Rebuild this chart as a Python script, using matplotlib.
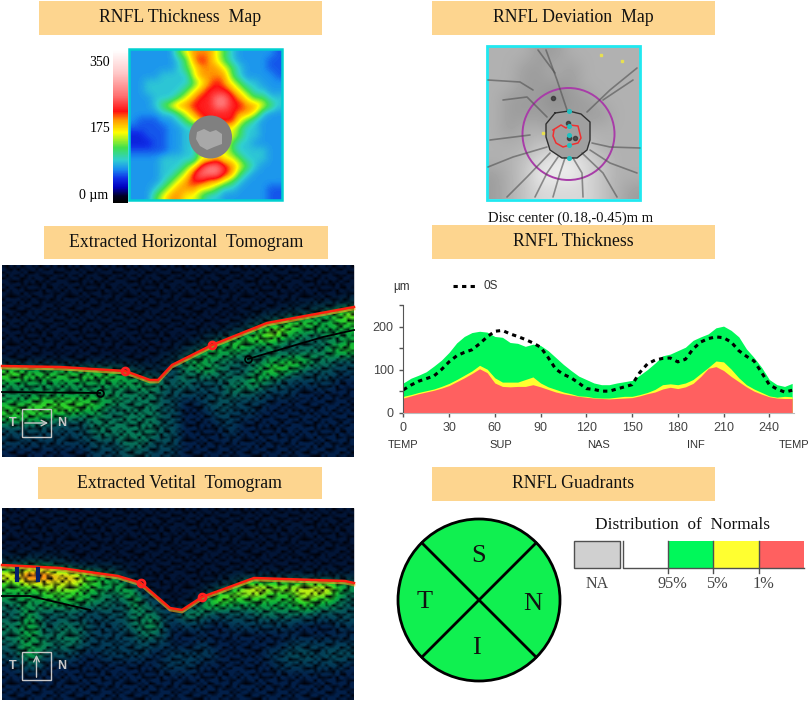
import numpy as np
import matplotlib
matplotlib.use("Agg")
import matplotlib.pyplot as plt
from matplotlib.colors import LinearSegmentedColormap
from matplotlib.patches import Rectangle, Circle, Polygon

plt.rcParams['font.family'] = ['Liberation Serif', 'DejaVu Sans']

# RNFL thickness profile, one value every 5 samples
angle = list(range(0, 260, 5))
normal_95 = [69, 80, 87, 95, 108, 122, 140, 162, 177, 186, 189, 187, 177, 175, 163, 161, 154, 159, 156, 144,
             128, 112, 98, 85, 77, 69, 65, 65, 69, 72, 75, 87, 100, 115, 132, 136, 144, 152, 168, 176,
             183, 197, 201, 191, 176, 148, 128, 105, 77, 65, 61, 68]
normal_5 = [38, 42, 47, 51, 55, 61, 68, 77, 87, 97, 110, 101, 81, 71, 71, 71, 77, 83, 69, 60,
            54, 48, 44, 39, 38, 35, 34, 34, 36, 38, 38, 42, 47, 54, 65, 67, 65, 69, 77, 91,
            105, 120, 118, 101, 81, 65, 55, 47, 39, 36, 38, 37]
normal_1 = [34, 39, 44, 48, 52, 57, 63, 72, 81, 91, 102, 93, 69, 61, 60, 61, 61, 65, 60, 54,
            48, 44, 41, 38, 36, 34, 33, 32, 33, 34, 35, 39, 44, 48, 55, 59, 56, 60, 68, 84,
            103, 107, 98, 84, 72, 60, 50, 43, 37, 34, 33, 33]
os_eye = [53, 64, 73, 79, 85, 100, 118, 132, 140, 146, 160, 176, 189, 191, 183, 177, 170, 162, 152, 128,
          101, 89, 81, 69, 56, 54, 50, 50, 55, 60, 65, 93, 113, 122, 126, 127, 118, 124, 148, 164,
          172, 176, 174, 164, 144, 131, 120, 93, 65, 55, 48, 52]
x_ticks = [0, 30, 60, 90, 120, 150, 180, 210, 240]
y_ticks = [0, 100, 200]
y_minor = [50, 150, 250]
sector_pos = [0, 64, 128, 192, 256]
sector_names = ['TEMP', 'SUP', 'NAS', 'INF', 'TEMP']

headers = ['RNFL Thickness  Map', 'RNFL Deviation  Map', 'Extracted Horizontal  Tomogram', 'RNFL Thickness',
           'Extracted Vetital  Tomogram', 'RNFL Guadrants']
header_boxes = [(39, 1, 283, 34), (432, 1, 283, 34), (44, 226, 284, 33), (432, 225, 283, 34),
                (38, 467, 284, 32), (432, 467, 283, 34)]

# thickness map, estimated colour level per cell (1 = dark blue ... 9 = pink)
thick_rows = ["33333356777654333332",
              "33333345787654333322",
              "33333345677765433322",
              "33334444677775433332",
              "33444444567876544333",
              "33444445678887654433",
              "33344456788998765544",
              "33345677888998877654",
              "33334456788888776433",
              "32223345678888654333",
              "22222334456666544333",
              "11222334456666544333",
              "11122334466665443333",
              "22222334466665444433",
              "33334444466766544433",
              "33334445689987654333",
              "33334456899987543333",
              "33334567887765433333",
              "33345677766544333322",
              "33356776654433333322"]
level_um = [0, 50, 65, 80, 95, 125, 160, 190, 215, 250]

# tomogram brightness per cell (0 = black ... 9 = red)
horiz_rows = ["111111 111111 111111 111111 111111 111111",
              "111111 111111 111111 111111 111111 111111",
              "111111 111111 111111 111111 111111 111111",
              "111111 111111 111111 111111 111111 111112",
              "111111 111111 111111 111111 111112 234567",
              "111111 111111 111111 111111 123456 665566",
              "111111 111111 111111 111112 356776 555555",
              "111111 111111 111111 112456 666654 433445",
              "111111 111111 111111 245655 543433 344566",
              "111111 111111 111123 555444 344556 654433",
              "776666 666666 543222 445543 345665 433322",
              "555555 555555 555543 433334 455432 222211",
              "444444 444444 444433 332234 443222 111111",
              "555666 666655 444433 112333 222111 111111",
              "666666 665543 444433 111232 221111 111111",
              "555544 333444 444433 111122 111111 111111",
              "222222 223444 444433 111112 111111 111111",
              "222222 222333 444333 111111 111111 111111",
              "111111 111222 333222 111111 111111 111111"]
vert_rows = ["111111 111111 111111 111111 111111 111111",
             "111111 111111 111111 111111 111111 111111",
             "111111 111111 111111 111111 111111 111111",
             "111111 111111 111111 111111 111111 111111",
             "111111 111111 111111 111111 111111 111111",
             "334443 311111 111111 111111 111111 111111",
             "889998 887655 211111 111111 111111 111111",
             "667777 776655 541111 111123 677777 777765",
             "555566 665544 553111 112577 777666 777754",
             "445455 555443 354311 125665 555555 665543",
             "335433 332233 344432 554333 334444 443333",
             "445533 434222 344531 222112 222222 111122",
             "445534 443222 234431 111111 111111 111111",
             "345453 443222 223221 112111 111112 222222",
             "335533 321122 222112 222211 111223 332333",
             "123411 111111 111122 221111 111122 222221",
             "111111 111111 111111 111111 111111 111111",
             "111111 111111 111111 111111 111111 111111",
             "111111 111111 111111 111111 111111 111111"]
speckle_rows = ["5927 1840 6395 2718",
                "1683 9254 0716 8342",
                "7340 2619 8452 1097",
                "2916 7083 3168 5724",
                "8451 3962 7205 9136",
                "0379 6815 1947 2680",
                "6142 0738 5691 7403",
                "3805 9471 2360 8915",
                "9260 4187 6839 0452",
                "1574 2906 4018 6377",
                "4798 6351 9724 1280",
                "8023 1749 0586 3961",
                "2651 8094 3172 7546",
                "7316 5420 8963 0184",
                "0489 3167 2540 9628",
                "5134 7892 6017 4375"]

# tomogram overlays in image pixels
h_surf_x = [2, 60, 125, 150, 158, 172, 212, 267, 354]
h_surf_y = [366, 367, 371, 380, 380, 365, 345, 323, 307]
h_seg_x = [2, 100]
h_seg_y = [392, 393]
h_seg2_x = [248, 323, 354]
h_seg2_y = [359, 337, 330]
h_mark_x = [125, 212]
h_mark_y = [371, 345]
v_surf_x = [2, 60, 118, 141, 170, 182, 202, 254, 345, 354]
v_surf_y = [565, 568, 576, 583, 608, 610, 597, 578, 581, 583]
v_seg_x = [2, 30, 90]
v_seg_y = [596, 596, 610]
v_mark_x = [141, 202]
v_mark_y = [583, 597]
shadow_x = [17, 38]

# fundus photo, all given in pixels of the image
fundus_rows = ["9 9 9 8 8 9 9 9 9 9",
               "9 9 8 8 9 8 9 9 9 9",
               "9 9 8 8 8 8 9 9 9 9",
               "9 8 8 8 7 8 8 9 9 9",
               "9 8 8 8 8 8 8 8 9 9",
               "9 8 9 9 8 8 9 9 9 9",
               "9 9 9 10 10 10 10 9 9 9",
               "9 9 10 11 12 12 11 10 9 9",
               "8 9 10 12 12 12 11 10 9 9",
               "8 9 10 11 11 11 11 10 9 8"]
vessels = [[(546, 50), (557, 80), (567, 110)],
           [(538, 50), (555, 73)],
           [(637, 68), (610, 90), (587, 112)],
           [(633, 80), (603, 100)],
           [(488, 80), (520, 82), (533, 90)],
           [(503, 100), (527, 97), (547, 117)],
           [(507, 197), (527, 177), (550, 153)],
           [(535, 197), (547, 173), (558, 157)],
           [(553, 197), (560, 173), (565, 158)],
           [(583, 197), (582, 173), (573, 158)],
           [(617, 197), (603, 173), (582, 153)],
           [(637, 173), (610, 163), (590, 150)],
           [(640, 148), (610, 147), (592, 143)],
           [(488, 167), (513, 157), (547, 147)],
           [(490, 140), (530, 135)]]
disc_x = [555, 569, 581, 590, 590, 587, 577, 562, 550, 546, 546, 555]
disc_y = [113, 111, 114, 122, 140, 150, 158, 158, 150, 137, 124, 113]
cup_x = [553, 561, 566, 570, 578, 581, 578, 570, 563, 556, 553, 554]
cup_y = [130, 125, 128, 125, 126, 138, 143, 145, 147, 143, 136, 130]
disc_dot_x = [569, 569, 569, 569, 569]
disc_dot_y = [111, 126, 135, 145, 158]
spot_x = [568, 569, 575, 553]
spot_y = [123, 138, 138, 98]
fleck_x = [601, 622, 543]
fleck_y = [55, 61, 133]

# distribution legend
dist_colors = ['#ffffff', '#00f85a', '#ffff30', '#ff6060']
dist_edges = [623, 668, 713, 759, 804]
dist_labels = ['95%', '5%', '1%']
dist_label_x = [672, 717, 763]

fig = plt.figure(figsize=(8.09, 7.02), dpi=100)
page = fig.add_axes([0, 0, 1, 1])
page.set_xlim(0, 809)
page.set_ylim(702, 0)
page.axis('off')

for name, (bx, by, bw, bh) in zip(headers, header_boxes):
    page.add_patch(Rectangle((bx, by), bw, bh, color='#fdd58f', lw=0))
    page.text(bx + bw / 2, by + bh / 2, name, ha='center', va='center', fontsize=12.8, color='#111111')

# thickness map
thick_cmap = LinearSegmentedColormap.from_list('thick', [(0, '#000000'), (0.04, '#000020'), (0.1, '#0000c0'),
                                                         (0.16, '#1030e8'), (0.22, '#1a90f0'), (0.28, '#30d0d0'),
                                                         (0.36, '#40e050'), (0.46, '#ffff00'), (0.54, '#ff9c00'),
                                                         (0.6, '#ff1010'), (0.7, '#ff7070'), (0.85, '#ffc8c8'),
                                                         (1, '#ffffff')])
thick_um = np.array(level_um)[np.array([[int(c) for c in r] for r in thick_rows])]
page.imshow(thick_um, cmap=thick_cmap, vmin=0, vmax=350, extent=(129, 282, 200, 49), interpolation='bicubic', aspect='auto')
page.imshow(np.linspace(350, 0, 200).reshape(-1, 1), cmap=thick_cmap, vmin=0, vmax=350, extent=(113, 128, 203, 50), aspect='auto')
page.add_patch(Circle((210.5, 137), 21.5, color='#808080', lw=0))
page.add_patch(Polygon(list(zip([197, 204, 210, 216, 222, 222, 214, 207, 200, 196],
                                [132, 129, 132, 130, 134, 144, 147, 150, 146, 139])), color='#a8a8a8', lw=0))
page.add_patch(Rectangle((129, 49), 153, 151, fill=False, ec='#00d0d0', lw=1.8))
page.text(110, 62, '350', ha='right', va='center', fontsize=10)
page.text(110, 128, '175', ha='right', va='center', fontsize=10)
page.text(108, 196, '0 µm', ha='right', va='center', fontsize=10)

# fundus
fundus = np.array([[float(v) for v in r.split()] for r in fundus_rows])
page.imshow(fundus, cmap='gray', vmin=0, vmax=13, extent=(487, 640, 199, 46), interpolation='bicubic', aspect='auto')
for v in vessels:
    page.plot([p[0] for p in v], [p[1] for p in v], color='#505050', lw=1.2, alpha=0.6, solid_capstyle='round')
page.add_patch(Rectangle((487, 46), 153, 154, fill=False, ec='#20e8f0', lw=2))
page.add_patch(Circle((568.5, 134), 46, fill=False, ec='#a83ca8', lw=1.4))
page.fill(disc_x, disc_y, fc='#a0a0a0', ec='none')
page.plot(disc_x, disc_y, color='#303030', lw=1)
page.plot(spot_x, spot_y, ls='none', marker='o', ms=3, color='#303030', alpha=0.75)
page.plot(cup_x, cup_y, color='#f03030', lw=1.1)
page.plot(disc_dot_x, disc_dot_y, ls='none', marker='o', ms=2.6, color='#20c0c0')
page.plot(fleck_x, fleck_y, ls='none', marker='s', ms=2, color='#e8e050')
page.text(571, 218, 'Disc center (0.18,-0.45)m m', ha='center', va='center', fontsize=10.5, color='#111111')

# tomograms
scan_cmap = LinearSegmentedColormap.from_list('scan', ['#000008', '#03204a', '#043c58', '#06505a', '#087a58',
                                                       '#0aa840', '#30d828', '#c8f010', '#ff9010', '#ff2010'])
speck_cmap = LinearSegmentedColormap.from_list('speck', [(0, (0, 0, 0.03, 0)), (0.3, (0, 0, 0.03, 0)), (1, (0, 0, 0.03, 0.95))])
speck = np.array([[int(c) for c in r.replace(' ', '')] for r in speckle_rows])
speck = np.tile(speck, (4, 6))
scans = [(horiz_rows, (2, 354, 457, 265), h_surf_x, h_surf_y), (vert_rows, (2, 354, 700, 508), v_surf_x, v_surf_y)]
for rows, ext, sx, sy in scans:
    grid = np.array([[int(c) for c in r.replace(' ', '')] for r in rows])
    page.imshow(grid, cmap=scan_cmap, vmin=0, vmax=9, extent=ext, interpolation='bicubic', aspect='auto', zorder=0)
    # dark vitreous above the retina surface, so the edge stays sharp
    page.fill_between(sx, ext[3], sy, color='#02081c', alpha=0.4, lw=0, zorder=0.5)
    page.imshow(speck, cmap=speck_cmap, vmin=0, vmax=9, extent=ext, interpolation='bilinear', aspect='auto', zorder=0.6)
    page.plot(sx, np.array(sy) + 2, color='#ffb020', lw=2, alpha=0.6)
    page.plot(sx, sy, color='#ff2010', lw=1.8)

for sh in shadow_x:
    page.plot([sh, sh], [569, 580], color='#05206a', lw=3)
page.plot(h_seg_x, h_seg_y, color='black', lw=1.3)
page.plot(h_seg2_x, h_seg2_y, color='black', lw=1.3)
page.plot(v_seg_x, v_seg_y, color='black', lw=1.3)
page.plot(h_mark_x, h_mark_y, ls='none', marker='o', ms=5, mfc='none', mec='#ff2020', mew=2)
page.plot(v_mark_x, v_mark_y, ls='none', marker='o', ms=5, mfc='none', mec='#ff2020', mew=2)
page.plot([h_seg_x[-1], h_seg2_x[0]], [h_seg_y[-1], h_seg2_y[0]], ls='none', marker='o', ms=5, mfc='none', mec='black', mew=1.2)

for by in [409, 652]:
    page.add_patch(Rectangle((22, by), 29, 28, fill=False, ec='#c8c8c8', lw=1))
    page.text(13, by + 14, 'T', color='#c8c8c8', ha='center', va='center', fontsize=9, family='Liberation Sans', weight='bold')
    page.text(62, by + 14, 'N', color='#c8c8c8', ha='center', va='center', fontsize=9, family='Liberation Sans', weight='bold')
page.annotate('', xy=(51, 423), xytext=(22, 423), arrowprops=dict(arrowstyle='->', color='#c8c8c8', lw=1))
page.annotate('', xy=(36.5, 652), xytext=(36.5, 680), arrowprops=dict(arrowstyle='->', color='#c8c8c8', lw=1))

# quadrant circle
page.add_patch(Circle((479, 600), 81, fc='#10f050', ec='black', lw=2))
page.plot([422, 536], [543, 657], color='black', lw=2)
page.plot([422, 536], [657, 543], color='black', lw=2)
for letter, lx, ly in [('S', 479, 556), ('T', 425, 602), ('N', 533, 604), ('I', 476, 648)]:
    page.text(lx, ly, letter, ha='center', va='center', fontsize=19, color='#111111')

# legend of normals
page.text(683, 525, 'Distribution  of  Normals', ha='center', va='center', fontsize=12.4, color='#111111')
page.add_patch(Rectangle((574, 541), 46, 27, fc='#d0d0d0', ec='#505050', lw=1))
for c, x0, x1 in zip(dist_colors, dist_edges[:-1], dist_edges[1:]):
    page.add_patch(Rectangle((x0, 541), x1 - x0, 27, fc=c, ec='none'))
page.plot([623, 623, 804], [541, 568, 568], color='#505050', lw=1)
page.plot([668, 668], [541, 573], color='#505050', lw=1)
page.plot([713, 713], [541, 573], color='#505050', lw=1)
page.plot([759, 759], [541, 573], color='#505050', lw=1)
page.text(597, 584, 'NA', ha='center', va='center', fontsize=11.5, color='#444444')
for lab, lx in zip(dist_labels, dist_label_x):
    page.text(lx, 584, lab, ha='center', va='center', fontsize=11.8, color='#444444')

# thickness profile
ax = fig.add_axes([403.3 / 809, 1 - 412.7 / 702, (793.7 - 403.3) / 809, (412.7 - 305) / 702])
ax.fill_between(angle, 0, normal_95, color='#00f85a', lw=0)
ax.fill_between(angle, 0, normal_5, color='#ffff30', lw=0)
ax.fill_between(angle, 0, normal_1, color='#ff6060', lw=0)
ax.plot(angle, os_eye, color='black', lw=2.2, dashes=(1.4, 1.4))
ax.set_xlim(0, 256)
ax.set_ylim(0, 250)
ax.set_xticks(x_ticks)
ax.set_yticks(y_ticks)
ax.set_yticks(y_minor, minor=True)
ax.tick_params(axis='both', which='both', color='#555555', length=3, width=1, labelcolor='#444444', labelsize=9, pad=4)
for lab in ax.get_xticklabels() + ax.get_yticklabels():
    lab.set_family('Liberation Sans')
ax.spines['top'].set_visible(False)
ax.spines['right'].set_visible(False)
ax.spines['left'].set_color('#555555')
ax.spines['bottom'].set_color('#bbbbbb')
ax.patch.set_alpha(0)
for pos, name in zip(sector_pos, sector_names):
    ax.text(pos, -74, name, ha='center', va='center', fontsize=8, color='#333333', family='Liberation Sans', clip_on=False)

page.text(402, 287, 'µm', ha='center', va='center', fontsize=8.5, color='#333333', family='Liberation Sans')
page.plot([453, 477], [286, 286], color='black', lw=2.2, dashes=(1.4, 1.4))
page.text(484, 286, '0S', ha='left', va='center', fontsize=8.5, color='#333333', family='Liberation Sans')

page.set_xlim(0, 809)
page.set_ylim(702, 0)
fig.savefig('out.png', dpi=100)
